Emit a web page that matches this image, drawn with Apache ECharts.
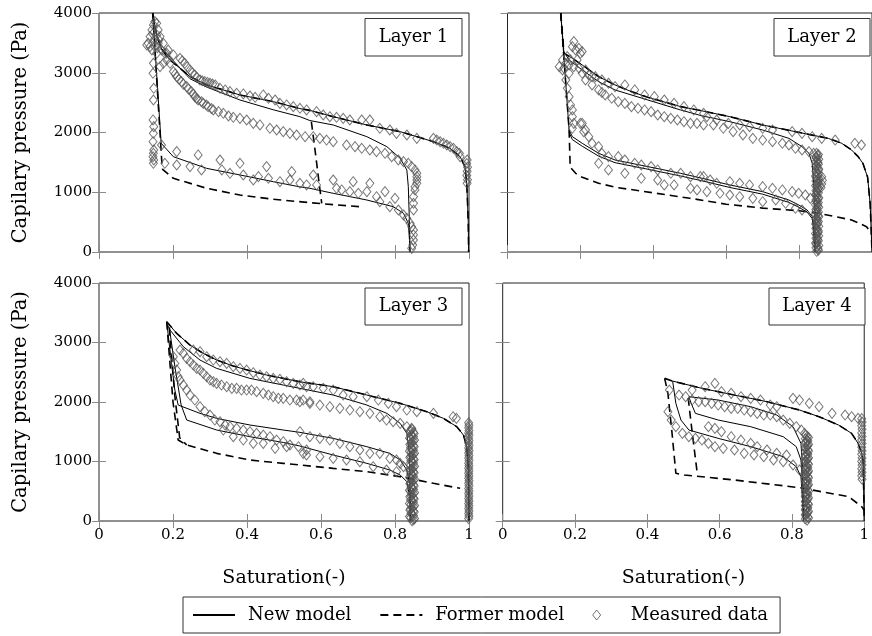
<!DOCTYPE html>
<html><head><meta charset="utf-8">
<script src="https://cdn.jsdelivr.net/npm/echarts@6/dist/echarts.min.js"></script>
<style>html,body{margin:0;padding:0;background:#fff}#c{width:872px;height:636px}</style>
</head><body><div id="c"></div>
<script>
// ---------- tick labels ----------
const xTicks = [0, 0.2, 0.4, 0.6, 0.8, 1];
const yTicks = [0, 1000, 2000, 3000, 4000];
const layerNames = ['Layer 1', 'Layer 2', 'Layer 3', 'Layer 4'];
const xTitle = 'Saturation(-)';
const yTitle = 'Capilary pressure (Pa)';
const seriesNames = ['New model', 'Former model', 'Measured data'];

// ---------- Layer 1 ----------
const l1NewMain = [[0.145,4000],[0.155,3650],[0.170,3380],[0.192,3214],[0.246,2935],[0.291,2796],[0.381,2628],[0.471,2516],[0.543,2400],[0.570,2370],[0.633,2265],[0.724,2126],[0.814,2014],[0.904,1846],[0.949,1735],[0.976,1595],[0.989,1428],[0.994,1150],[0.998,500],[0.999,0]];
const l1NewScan = [[0.170,3400],[0.192,3260],[0.246,2900],[0.291,2760],[0.381,2544],[0.471,2380],[0.543,2265],[0.570,2200],[0.633,2126],[0.724,1930],[0.778,1763],[0.814,1568],[0.832,1373],[0.836,1093],[0.839,500],[0.840,0]];
const l1NewImb = [[0.145,4000],[0.168,1820],[0.201,1595],[0.291,1400],[0.381,1289],[0.471,1177],[0.543,1090],[0.570,1066],[0.633,982],[0.724,870],[0.795,759],[0.823,648],[0.836,480],[0.841,33],[0.841,0]];
const l1FormerMain = [[0.145,4000],[0.155,3650],[0.170,3380],[0.192,3214],[0.246,2935],[0.291,2796],[0.381,2628],[0.471,2516],[0.543,2400],[0.570,2370],[0.633,2265],[0.724,2126],[0.814,2014],[0.904,1846],[0.949,1735],[0.976,1595],[0.989,1428],[0.994,1150],[0.998,500],[0.999,0]];
const l1FormerScan = [[0.574,2180],[0.585,1650],[0.595,1150],[0.602,815]];
const l1FormerImb = [[0.145,4000],[0.170,1480],[0.172,1384],[0.201,1233],[0.291,1066],[0.381,954],[0.471,882],[0.570,826],[0.602,808],[0.705,759]];
const l1Measured = [
[0.133,3493],[0.138,3605],[0.143,3716],[0.147,3800],[0.151,3856],[0.156,3828],[0.160,3716],[0.165,3605],[0.151,3437],[0.156,3326],[0.160,3493],[0.169,3381],[0.174,3493],[0.178,3326],[0.183,3214],[0.187,3381],[0.192,3158],[0.201,3298],[0.174,3158],[0.165,3103],[0.143,3381],[0.138,3437],[0.129,3465],[0.156,3633],[0.150,3560],[0.162,3550],[0.145,3650],[0.158,3420],
[0.147,3158],[0.146,2991],[0.148,2740],[0.147,2544],[0.146,2210],[0.148,2098],[0.147,1987],[0.146,1846],[0.148,1707],[0.147,1652],[0.146,1595],[0.148,1540],[0.147,1485],
[0.219,3242],[0.225,3200],[0.232,3158],[0.238,3100],[0.246,3047],[0.252,3000],[0.259,2963],[0.265,2920],[0.273,2879],[0.279,2865],[0.286,2851],[0.293,2838],[0.300,2824],[0.307,2810],[0.314,2796],[0.327,2740],[0.341,2712],[0.354,2684],[0.372,2656],[0.390,2645],[0.408,2611],[0.422,2589],[0.444,2628],[0.458,2572],[0.476,2544],[0.489,2488],[0.507,2461],[0.525,2433],[0.543,2405],[0.561,2377],[0.588,2349],[0.606,2293],[0.624,2265],[0.642,2254],[0.660,2237],[0.678,2209],[0.710,2209],[0.732,2209],[0.759,2070],[0.786,2042],[0.804,1986],[0.832,1958],[0.859,1902],[0.904,1902],[0.913,1874],[0.922,1846],[0.931,1819],[0.940,1791],[0.949,1763],[0.958,1735],[0.967,1680],[0.974,1652],[0.976,1596],
[0.995,1540],[0.994,1480],[0.996,1420],[0.995,1350],[0.994,1280],[0.996,1210],[0.995,1150],
[0.183,3326],[0.201,3019],[0.206,2980],[0.210,2935],[0.216,2890],[0.223,2851],[0.228,2810],[0.237,2768],[0.242,2725],[0.250,2684],[0.255,2640],[0.259,2600],[0.264,2570],[0.268,2544],[0.277,2515],[0.282,2488],[0.290,2460],[0.295,2433],[0.304,2400],[0.309,2377],[0.323,2349],[0.336,2321],[0.350,2276],[0.363,2254],[0.381,2237],[0.399,2209],[0.417,2153],[0.435,2126],[0.462,2070],[0.480,2042],[0.498,2014],[0.516,1986],[0.534,1958],[0.557,1930],[0.579,1930],[0.597,1902],[0.615,1874],[0.633,1846],[0.669,1791],[0.692,1763],[0.710,1735],[0.732,1707],[0.750,1680],[0.773,1652],[0.791,1596],[0.809,1540],[0.823,1512],[0.836,1484],[0.845,1429],[0.854,1373],[0.859,1317],[0.859,1261],[0.859,1205],[0.859,1150],[0.854,1094],[0.854,1038],[0.850,926],[0.850,815],[0.850,703],
[0.169,1791],[0.210,1680],[0.178,1484],[0.210,1456],[0.246,1429],[0.268,1624],[0.277,1373],[0.327,1540],[0.332,1373],[0.354,1317],[0.381,1484],[0.390,1289],[0.417,1205],[0.431,1261],[0.453,1429],[0.458,1233],[0.489,1177],[0.516,1205],[0.521,1345],[0.543,1150],[0.561,1122],[0.579,1289],[0.588,1122],[0.633,1205],[0.642,1066],[0.656,1038],[0.678,1010],[0.687,1177],[0.701,982],[0.724,1010],[0.732,1150],[0.750,926],[0.773,1010],[0.759,842],[0.786,759],[0.800,898],[0.809,703],[0.823,619],[0.832,563],[0.841,480],[0.845,424],[0.850,368],[0.850,285],[0.850,201],[0.848,117],[0.845,61]
];

// ---------- Layer 2 ----------
const l2NewMain = [[0.146,4000],[0.155,3326],[0.178,3242],[0.205,3130],[0.250,2935],[0.295,2796],[0.340,2684],[0.385,2589],[0.475,2433],[0.533,2363],[0.610,2265],[0.700,2126],[0.790,2014],[0.880,1902],[0.917,1819],[0.944,1707],[0.962,1596],[0.975,1484],[0.988,1250],[0.995,800],[1.0,0]];
const l2NewScan = [[0.160,3300],[0.169,3214],[0.205,3047],[0.250,2851],[0.295,2712],[0.385,2544],[0.475,2377],[0.533,2280],[0.610,2181],[0.700,2042],[0.772,1902],[0.808,1763],[0.827,1652],[0.836,1484],[0.840,1150],[0.843,703],[0.845,0]];
const l2NewImbA = [[0.146,4000],[0.169,2042],[0.178,1930],[0.205,1819],[0.250,1652],[0.295,1540],[0.385,1429],[0.475,1317],[0.533,1235],[0.610,1122],[0.700,1010],[0.772,870],[0.799,787],[0.822,703],[0.836,591],[0.840,424],[0.843,0]];
const l2NewImbB = [[0.169,2000],[0.178,1880],[0.205,1770],[0.250,1605],[0.295,1495],[0.385,1385],[0.475,1272],[0.533,1192],[0.610,1080],[0.700,968],[0.772,830],[0.799,750],[0.822,668],[0.836,560],[0.840,400],[0.843,0]];
const l2FormerMain = [[0.146,4000],[0.155,3326],[0.178,3242],[0.205,3130],[0.250,2935],[0.295,2796],[0.340,2684],[0.385,2589],[0.475,2433],[0.533,2363],[0.610,2265],[0.700,2126],[0.790,2014],[0.880,1902],[0.917,1819],[0.944,1707],[0.962,1596],[0.975,1484],[0.988,1250],[0.995,800],[1.0,0]];
const l2FormerImb = [[0.146,4000],[0.169,2042],[0.172,1420],[0.187,1317],[0.205,1250],[0.250,1150],[0.300,1080],[0.400,990],[0.500,900],[0.600,800],[0.700,735],[0.800,690],[0.854,647],[0.944,536],[0.985,424],[1.0,300]];
const l2Measured = [
[0.142,3102],[0.151,3214],[0.155,3075],[0.160,3158],[0.164,3270],[0.169,3130],[0.173,3214],[0.178,3437],[0.182,3521],[0.187,3381],[0.196,3409],[0.200,3326],[0.205,3354],[0.191,3214],[0.182,3102],[0.196,3075],[0.205,2991],[0.214,3047],[0.223,2963],[0.232,2935],[0.151,3047],[0.169,2991],
[0.160,2879],[0.164,2740],[0.169,2600],[0.173,2461],[0.178,2377],[0.178,2265],[0.182,2153],[0.178,2070],[0.200,2153],[0.209,2014],
[0.241,2935],[0.259,2879],[0.277,2824],[0.295,2768],[0.322,2796],[0.349,2712],[0.376,2628],[0.403,2600],[0.430,2544],[0.457,2488],[0.484,2433],[0.511,2377],[0.538,2321],
[0.214,2879],[0.232,2796],[0.250,2712],[0.259,2670],[0.268,2628],[0.286,2572],[0.304,2516],[0.322,2488],[0.340,2433],[0.358,2405],[0.376,2377],[0.394,2349],[0.412,2293],[0.430,2265],[0.448,2237],[0.466,2209],[0.484,2181],[0.502,2153],[0.520,2153],[0.538,2126],
[0.547,2265],[0.574,2209],[0.606,2153],[0.637,2126],[0.664,2098],[0.700,2070],[0.727,2042],[0.781,2014],[0.808,1986],[0.836,1930],[0.862,1902],[0.899,1874],[0.953,1819],[0.971,1791],
[0.565,2126],[0.592,2070],[0.619,2014],[0.646,1958],[0.673,1902],[0.700,1874],[0.727,1846],[0.754,1819],[0.772,1791],[0.790,1735],[0.808,1707],[0.827,1680],[0.840,1652],
[0.205,2153],[0.214,2042],[0.223,1930],[0.232,1819],[0.250,1763],[0.250,1484],[0.259,1652],[0.277,1596],[0.277,1373],[0.304,1596],[0.322,1540],[0.322,1317],[0.349,1484],[0.367,1456],[0.367,1233],[0.394,1429],[0.412,1373],[0.412,1205],[0.430,1122],[0.448,1317],[0.457,1122],[0.475,1317],[0.502,1261],[0.502,1066],[0.520,1038],[0.538,1261],
[0.529,1261],[0.556,1205],[0.574,1150],[0.610,1177],[0.637,1150],[0.664,1122],[0.700,1094],[0.727,1066],[0.754,1038],[0.781,1010],[0.799,982],[0.817,954],[0.831,898],
[0.547,1010],[0.583,982],[0.610,954],[0.637,926],[0.673,898],[0.700,842],[0.736,870],[0.763,815],[0.790,731],[0.808,703],
[0.848,1650],[0.851,1612],[0.847,1575],[0.850,1530],[0.852,1494],[0.848,1452],[0.850,1410],[0.853,1372],[0.849,1330],[0.851,1291],[0.847,1248],[0.850,1210],[0.852,1168],[0.848,1131],[0.850,1090],[0.851,1052],[0.849,1008],[0.847,972],[0.850,930],[0.852,889],[0.848,851],[0.850,808],[0.851,772],[0.849,731],[0.847,688],[0.850,652],[0.852,609],[0.848,571],[0.850,530],[0.851,488],[0.849,452],[0.847,409],[0.850,371],[0.852,328],[0.848,292],[0.850,248],[0.851,211],[0.849,168],[0.847,131],[0.850,88],[0.852,52],[0.848,12],
[0.853,1630],[0.846,1590],[0.854,1552],[0.846,1511],[0.853,1470],[0.845,1432],[0.854,1390],[0.846,1350],[0.853,1310],[0.845,1270],[0.854,1230],[0.846,1190],[0.853,1150],[0.845,1110],[0.854,1070],[0.846,1030],[0.853,990],[0.845,950],[0.854,910],[0.846,870],[0.853,830],[0.845,790],[0.854,750],[0.846,710],[0.853,670],[0.845,630],[0.854,590],[0.846,550],[0.853,510],[0.845,470],[0.854,430],[0.846,390],[0.853,350],[0.845,310],[0.854,270],[0.846,230],[0.853,190],[0.845,150],[0.854,110],[0.846,70],[0.853,30],
[0.862,1261],[0.864,1200],[0.862,1140],[0.860,1080]
];

// ---------- Layer 3 ----------
const l3NewMain = [[0.183,3349],[0.210,3153],[0.246,2957],[0.282,2817],[0.318,2705],[0.363,2604],[0.408,2526],[0.453,2453],[0.498,2397],[0.543,2340],[0.633,2257],[0.724,2117],[0.814,1977],[0.886,1837],[0.931,1725],[0.967,1585],[0.985,1445],[0.994,1249],[0.998,913],[1.0,0]];
const l3NewScan = [[0.185,3300],[0.192,3209],[0.228,2929],[0.273,2705],[0.318,2565],[0.408,2397],[0.498,2285],[0.543,2229],[0.633,2117],[0.724,1949],[0.778,1809],[0.814,1641],[0.832,1473],[0.839,1137],[0.841,0]];
const l3NewImbA = [[0.183,3349],[0.195,2700],[0.205,2200],[0.214,1949],[0.273,1809],[0.318,1725],[0.408,1613],[0.498,1529],[0.543,1490],[0.633,1389],[0.724,1249],[0.786,1137],[0.814,1025],[0.832,857],[0.841,577],[0.843,0]];
const l3NewImbB = [[0.190,3250],[0.205,2600],[0.222,1950],[0.237,1697],[0.318,1529],[0.408,1417],[0.498,1320],[0.543,1260],[0.633,1109],[0.724,969],[0.786,857],[0.814,773],[0.832,661],[0.840,400],[0.842,0]];
const l3FormerMain = [[0.183,3349],[0.210,3153],[0.246,2957],[0.282,2817],[0.318,2705],[0.363,2604],[0.408,2526],[0.453,2453],[0.498,2397],[0.543,2340],[0.633,2257],[0.724,2117],[0.814,1977],[0.886,1837],[0.931,1725],[0.967,1585],[0.985,1445],[0.994,1249],[0.998,913],[1.0,0]];
const l3FormerImbA = [[0.183,3349],[0.200,2000],[0.214,1361],[0.237,1277],[0.318,1137],[0.408,1025],[0.498,969],[0.543,941],[0.633,885],[0.724,829],[0.814,745],[0.904,633],[0.976,549]];
const l3FormerImbB = [[0.190,3250],[0.205,2100],[0.218,1400],[0.237,1277]];
const l3Measured = [
[0.255,2873],[0.273,2845],[0.291,2761],[0.309,2705],[0.327,2677],[0.345,2649],[0.363,2593],[0.381,2565],[0.399,2537],[0.417,2493],[0.435,2453],[0.453,2425],[0.471,2397],[0.489,2381],[0.507,2341],[0.525,2313],[0.543,2285],[0.561,2257],
[0.219,2873],[0.228,2817],[0.237,2733],[0.246,2677],[0.255,2621],[0.264,2565],[0.273,2537],[0.282,2481],[0.291,2425],[0.300,2369],[0.309,2341],[0.318,2313],[0.331,2285],[0.345,2257],[0.359,2229],[0.372,2229],[0.385,2201],[0.399,2201],[0.412,2201],[0.426,2173],[0.444,2145],[0.458,2117],[0.471,2089],[0.485,2061],[0.498,2061],[0.516,2033],[0.534,2033],[0.552,2033],[0.570,2005],
[0.201,2761],[0.205,2649],[0.210,2537],[0.214,2425],[0.219,2369],[0.228,2285],[0.237,2201],[0.246,2117],[0.259,2033],[0.273,1921],[0.286,1837],[0.300,1781],[0.313,1697],[0.327,1669],[0.341,1613],[0.354,1585],[0.372,1557],[0.390,1529],[0.408,1501],[0.426,1473],[0.444,1445],[0.462,1417],[0.480,1361],[0.498,1333],[0.516,1277],[0.539,1249],[0.561,1193],
[0.336,1529],[0.363,1417],[0.390,1361],[0.417,1305],[0.444,1305],[0.476,1221],[0.507,1249],[0.552,1137],
[0.552,2313],[0.579,2257],[0.606,2229],[0.633,2201],[0.660,2117],[0.687,2089],[0.724,2089],[0.755,2033],[0.782,1977],[0.804,1921],[0.832,1865],[0.859,1837],[0.904,1809],[0.957,1753],[0.966,1725],
[0.543,2005],[0.570,1977],[0.597,1949],[0.624,1921],[0.651,1893],[0.678,1865],[0.705,1837],[0.732,1809],[0.759,1753],[0.777,1697],[0.795,1669],[0.814,1641],[0.832,1585],[0.845,1557],
[0.543,1501],[0.570,1417],[0.597,1389],[0.624,1361],[0.651,1305],[0.678,1249],[0.705,1193],[0.732,1137],[0.759,1137],[0.786,1053],[0.804,1025],[0.814,969],[0.823,913],
[0.561,1109],[0.597,1081],[0.633,1053],[0.669,1025],[0.705,997],[0.741,913],[0.777,857],[0.804,829],
[0.846,1540],[0.840,1505],[0.852,1470],[0.846,1432],[0.839,1396],[0.853,1360],[0.846,1322],[0.840,1285],[0.852,1250],[0.846,1212],[0.839,1175],[0.853,1140],[0.846,1102],[0.840,1066],[0.852,1030],[0.846,992],[0.839,955],[0.853,920],[0.846,882],[0.840,846],[0.852,810],[0.846,772],[0.839,735],[0.853,700],[0.846,662],[0.840,626],[0.852,590],[0.846,552],[0.839,515],[0.853,480],[0.846,442],[0.840,406],[0.852,370],[0.846,332],[0.839,295],[0.853,260],[0.846,222],[0.840,186],[0.852,150],[0.846,112],[0.839,75],[0.853,40],[0.846,5],
[0.842,1522],[0.850,1488],[0.843,1450],[0.850,1414],[0.842,1378],[0.850,1341],[0.843,1304],[0.850,1267],[0.842,1230],[0.850,1194],[0.843,1157],[0.850,1120],[0.842,1084],[0.850,1048],[0.843,1011],[0.850,974],[0.842,938],[0.850,901],[0.843,864],[0.850,828],[0.842,791],[0.850,754],[0.843,718],[0.850,681],[0.842,644],[0.850,608],[0.843,571],[0.850,534],[0.842,498],[0.850,461],[0.843,424],[0.850,388],[0.842,351],[0.850,314],[0.843,278],[0.850,241],[0.842,204],[0.850,168],[0.843,131],[0.850,94],[0.842,58],[0.850,22],
[0.999,1650],[1.0,1608],[0.999,1566],[1.0,1522],[0.999,1480],[1.0,1440],[0.999,1396],[1.0,1354],[0.999,1312],[1.0,1270],[0.999,1228],[1.0,1185],[0.999,1142],[1.0,1100],[0.999,1058],[1.0,1016],[0.999,972],[1.0,930],[0.999,888],[1.0,846],[0.999,804],[1.0,760],[0.999,718],[1.0,676],[0.999,634],[1.0,592],[0.999,548],[1.0,506],[0.999,464],[1.0,422],[0.999,380],[1.0,336],[0.999,294],[1.0,252],[0.999,210],[1.0,168],[0.999,124],[1.0,82],[0.999,40]
];

// ---------- Layer 4 ----------
const l4NewMain = [[0.470,2352],[0.551,2229],[0.641,2117],[0.731,2005],[0.821,1865],[0.875,1753],[0.929,1613],[0.965,1473],[0.983,1305],[0.993,1137],[0.997,997],[1.0,0]];
const l4NewImbA = [[0.470,2352],[0.479,1977],[0.493,1697],[0.515,1529],[0.596,1389],[0.686,1249],[0.776,1081],[0.812,913],[0.825,745],[0.830,297],[0.832,0]];
const l4NewScanB = [[0.515,2089],[0.520,2000],[0.533,1809],[0.596,1697],[0.686,1585],[0.776,1417],[0.812,1249],[0.825,1025],[0.830,577],[0.832,0]];
const l4NewScanC = [[0.515,2089],[0.596,2033],[0.686,1921],[0.758,1781],[0.803,1585],[0.825,1305],[0.830,857],[0.832,0]];
const l4FormerMain = [[0.448,2397],[0.470,2352],[0.551,2229],[0.641,2117],[0.731,2005],[0.821,1865],[0.875,1753],[0.929,1613],[0.965,1473],[0.983,1305],[0.993,1137],[0.997,997],[1.0,0]];
const l4FormerScan = [[0.513,2070],[0.520,1700],[0.530,1200],[0.538,810]];
const l4FormerImb = [[0.448,2397],[0.457,2145],[0.468,1500],[0.479,801],[0.502,773],[0.641,689],[0.821,560],[0.957,409],[0.993,241],[1.0,180]];
const l4Measured = [
[0.461,2201],[0.457,1837],[0.466,1697],[0.479,1585],[0.497,1473],[0.515,1417],[0.533,1389],[0.551,1361],[0.569,1305],[0.587,1249],[0.610,1221],[0.641,1193],[0.668,1137],[0.695,1109],[0.722,1081],[0.749,1025],[0.776,997],[0.803,941],[0.821,857],
[0.569,1585],[0.587,1557],[0.605,1501],[0.632,1417],[0.659,1361],[0.686,1305],[0.704,1249],[0.731,1193],[0.758,1137],[0.785,1109],
[0.524,2201],[0.560,2257],[0.587,2313],[0.605,2173],[0.632,2145],[0.659,2089],[0.686,2061],[0.713,2033],[0.740,1949],[0.758,1921],[0.803,2061],[0.821,2033],[0.848,1977],[0.875,1921],[0.911,1809],[0.947,1781],[0.965,1753],[0.983,1725],
[0.488,2117],[0.506,2089],[0.524,2033],[0.542,2005],[0.560,2005],[0.578,1977],[0.596,1949],[0.614,1921],[0.632,1893],[0.650,1893],[0.668,1865],[0.686,1837],[0.704,1809],[0.722,1781],[0.740,1781],[0.758,1753],[0.776,1697],[0.794,1641],[0.812,1585],[0.826,1529],[0.835,1473],
[0.838,1440],[0.846,1402],[0.842,1365],[0.838,1328],[0.846,1290],[0.842,1252],[0.838,1215],[0.846,1178],[0.842,1140],[0.838,1102],[0.846,1065],[0.842,1028],[0.838,990],[0.846,952],[0.842,915],[0.838,878],[0.846,840],[0.842,802],[0.838,765],[0.846,728],[0.842,690],[0.838,652],[0.846,615],[0.842,578],[0.838,540],[0.846,502],[0.842,465],[0.838,428],[0.846,390],[0.842,352],[0.838,315],[0.846,278],[0.842,240],[0.838,202],[0.846,165],[0.842,128],[0.838,90],[0.846,52],[0.842,15],
[0.843,1420],[0.837,1383],[0.844,1346],[0.837,1309],[0.844,1271],[0.837,1233],[0.844,1196],[0.837,1159],[0.844,1121],[0.837,1083],[0.844,1046],[0.837,1009],[0.844,971],[0.837,933],[0.844,896],[0.837,859],[0.844,821],[0.837,783],[0.844,746],[0.837,709],[0.844,671],[0.837,633],[0.844,596],[0.837,559],[0.844,521],[0.837,483],[0.844,446],[0.837,409],[0.844,371],[0.837,333],[0.844,296],[0.837,259],[0.844,221],[0.837,183],[0.844,146],[0.837,109],[0.844,71],[0.837,33],
[0.993,1720],[0.994,1662],[0.993,1600],[0.994,1541],[0.993,1480],[0.994,1421],[0.993,1360],[0.994,1302],[0.993,1240],[0.994,1180],[0.993,1121],[0.994,1060],[0.993,1001],[0.994,940],[0.993,880],[0.994,821],[0.993,760],[0.994,702]
];

// ---------- layout (pixels) ----------
const FONT = "'DejaVu Serif', serif";
const panels = [
  {grid:{left:99, top:13, width:370, height:239}, showX:false, showY:true, box:[365,18.5,97,37.5],
   news:[l1NewMain,l1NewScan,l1NewImb], formers:[l1FormerMain,l1FormerScan,l1FormerImb], measured:l1Measured},
  {grid:{left:507.5, top:13, width:370, height:239}, showX:false, showY:false, box:[774,18.5,96,37.5],
   news:[l2NewMain,l2NewScan,l2NewImbA,l2NewImbB], formers:[l2FormerMain,l2FormerImb], measured:l2Measured},
  {grid:{left:99, top:283, width:370, height:238}, showX:true, showY:true, box:[365,288,97,37],
   news:[l3NewMain,l3NewScan,l3NewImbA,l3NewImbB], formers:[l3FormerMain,l3FormerImbA,l3FormerImbB], measured:l3Measured},
  {grid:{left:502.7, top:283, width:370, height:238}, showX:true, showY:false, box:[769,288,96,37],
   news:[l4NewMain,l4NewImbA,l4NewScanB,l4NewScanC], formers:[l4FormerMain,l4FormerScan,l4FormerImb], measured:l4Measured}
];

const grids = [], xAxes = [], yAxes = [], series = [], graphics = [];
const tickStyle = {show:true, inside:true, length:7, lineStyle:{color:'#8a8a8a', width:1}};
const diamondStyle = {color:'rgba(255,255,255,0)', borderColor:'#555', borderWidth:1};
const dashPattern = [8,5];
panels.forEach((p, i) => {
  grids.push(Object.assign({show:true, borderColor:'#222', borderWidth:1, backgroundColor:'transparent'}, p.grid));
  const xBase = {type:'value', gridIndex:i, min:xTicks[0], max:xTicks[xTicks.length-1], interval:xTicks[1]-xTicks[0],
    splitLine:{show:false}, axisLine:{show:false}, axisTick:tickStyle};
  xAxes.push(Object.assign({}, xBase, {position:'bottom',
    axisLabel:{show:p.showX, margin:7, fontFamily:FONT, fontSize:15, color:'#000', formatter:v=>String(v)},
    name:p.showX?xTitle:'', nameLocation:'middle', nameGap:48, nameTextStyle:{fontFamily:FONT, fontSize:19, color:'#000'}}));
  xAxes.push(Object.assign({}, xBase, {position:'top', axisLabel:{show:false}}));
  const yBase = {type:'value', gridIndex:i, min:yTicks[0], max:yTicks[yTicks.length-1], interval:yTicks[1]-yTicks[0],
    splitLine:{show:false}, axisLine:{show:false}, axisTick:tickStyle};
  yAxes.push(Object.assign({}, yBase, {position:'left',
    axisLabel:{show:p.showY, margin:7, fontFamily:FONT, fontSize:15, color:'#000', formatter:v=>String(v)},
    name:p.showY?yTitle:'', nameLocation:'middle', nameGap:68, nameTextStyle:{fontFamily:FONT, fontSize:19.5, color:'#000'}}));
  yAxes.push(Object.assign({}, yBase, {position:'right', axisLabel:{show:false}}));
  const xi = 2*i, yi = 2*i;
  p.formers.forEach(d => series.push({type:'line', name:seriesNames[1], xAxisIndex:xi, yAxisIndex:yi, data:d,
    symbol:'none', smooth:false, clip:true, itemStyle:{color:'#000', opacity:0},
    lineStyle:{color:'#000', width:1.6, type:dashPattern}, z:2}));
  p.news.forEach(d => series.push({type:'line', name:seriesNames[0], xAxisIndex:xi, yAxisIndex:yi, data:d,
    symbol:'none', smooth:false, clip:true, itemStyle:{color:'#000', opacity:0},
    lineStyle:{color:'#000', width:1}, z:3}));
  series.push({type:'scatter', name:seriesNames[2], xAxisIndex:xi, yAxisIndex:yi, data:p.measured,
    symbol:'diamond', symbolSize:[8,10], clip:true, itemStyle:diamondStyle, z:4});
  const [bx, by, bw, bh] = p.box;
  graphics.push({type:'rect', shape:{x:bx, y:by, width:bw, height:bh}, style:{fill:'#fff', stroke:'#333', lineWidth:1}, z:10});
  graphics.push({type:'text', x:bx+bw/2, y:by+bh/2, style:{text:layerNames[i], fill:'#000', font:'18px '+FONT, textAlign:'center', textVerticalAlign:'middle'}, z:11});
});

const chart = echarts.init(document.getElementById('c'), null, {renderer:'canvas'});
chart.setOption({
  animation:false,
  backgroundColor:'#fff',
  grid:grids, xAxis:xAxes, yAxis:yAxes, series:series, graphic:graphics,
  legend:{show:true, left:183, top:597, selectedMode:false, symbolKeepAspect:true,
    data:[
      {name:seriesNames[0]},
      {name:seriesNames[1]},
      {name:seriesNames[2], icon:'path://M4,0L8,5L4,10L0,5Z', itemStyle:{color:'rgba(255,255,255,0)', borderColor:'#555', borderWidth:1}}
    ],
    itemWidth:42, itemHeight:10, itemGap:28, padding:[9,12,9,9],
    borderColor:'#333', borderWidth:1, borderRadius:0, backgroundColor:'#fff',
    textStyle:{fontFamily:FONT, fontSize:18, color:'#000', padding:[0,0,0,8]}}
});
</script></body></html>
